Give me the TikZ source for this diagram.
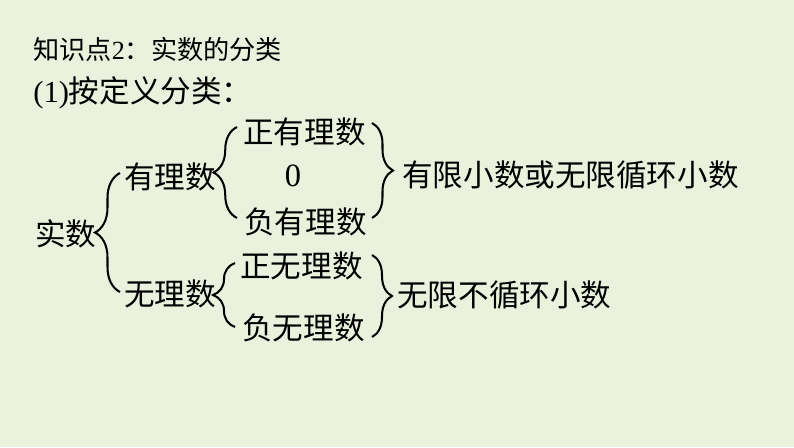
\documentclass[tikz,border=0pt]{standalone}
\usepackage{fontspec}
\setmainfont{Liberation Serif}
\newfontfamily\cjk{Noto Sans CJK SC}
\usepackage{tikz}
\usetikzlibrary{decorations.pathreplacing}
\definecolor{slidebg}{HTML}{EAF1DD}

\tikzset{
  item/.style={inner sep=0pt, anchor=west, font=\cjk\fontsize{17.4}{20}\selectfont},
  heading/.style={inner sep=0pt, anchor=west, font=\fontsize{14.9}{17}\selectfont},
  curly/.style={decorate, decoration={brace, amplitude=#1}, line width=1.15pt},
  curly/.default=0.4cm,
}

\begin{document}
\begin{tikzpicture}[x=0.02cm, y=-0.02cm]
    % slide background
    \fill[slidebg] (0,0) rectangle (794,447);
    \useasboundingbox (0,0) rectangle (794,447);
    % headings
    \node[heading] (topic) at (33,49) {{\cjk 知识点}2{\cjk ：实数的分类}};
    \node[heading, font=\fontsize{17.4}{20}\selectfont] (rule) at (33,93)
      {(1){\cjk 按定义分类：}};
    % first level
    \node[item] (real) at (35,234) {实数};
    \node[item] (rat) at (124,177) {有理数};
    \node[item] (irr) at (124,294) {无理数};
    % second level
    \node[item] (posrat) at (243,132) {正有理数};
    \node[item, anchor=center, font=\fontsize{18.5}{20}\selectfont] (zero) at (293,176) {0};
    \node[item] (negrat) at (244,222) {负有理数};
    \node[item] (posirr) at (240,266) {正无理数};
    \node[item] (negirr) at (242,328) {负无理数};
    % decimals
    \node[item] (ratdec) at (402,175) {有限小数或无限循环小数};
    \node[item] (irrdec) at (397,295) {无限不循环小数};
    % braces
    \draw[curly=0.5cm] (120,292) -- (120,173);
    \draw[curly=0.47cm] (237,218) -- (237,127);
    \draw[curly=0.44cm] (235,327) -- (235,263);
    \draw[curly=0.42cm] (372,123) -- (372,218);
    \draw[curly=0.4cm] (372,255) -- (372,337);
\end{tikzpicture}
\end{document}
